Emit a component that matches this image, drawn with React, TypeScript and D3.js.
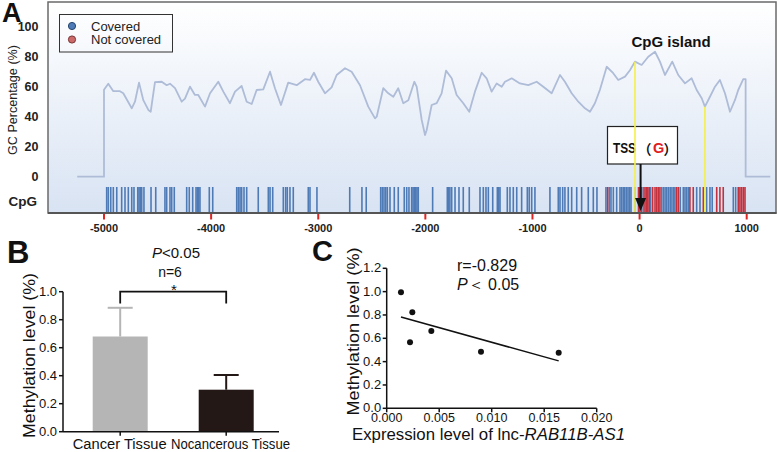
import React from "react";
import * as d3 from "d3";

// ---------- Panel A data ----------
const gcPos = [-5250, -5000, -5000, -4960, -4913, -4851, -4820, -4741, -4711, -4673,
  -4633, -4586, -4564, -4524, -4461, -4415, -4384, -4337, -4275, -4244,
  -4197, -4151, -4120, -4057, -4010, -3933, -3886, -3824, -3777, -3715,
  -3668, -3621, -3575, -3513, -3450, -3404, -3348, -3280, -3201, -3124,
  -3077, -3040, -3000, -2937, -2875, -2828, -2750, -2688, -2610, -2533,
  -2470, -2454, -2393, -2346, -2299, -2253, -2206, -2159, -2103, -2081,
  -2034, -2003, -1988, -1941, -1894, -1848, -1807, -1754, -1708, -1646,
  -1590, -1537, -1474, -1428, -1381, -1334, -1287, -1257, -1194, -1117,
  -1039, -961, -899, -821, -743, -697, -634, -572, -510, -463,
  -417, -370, -307, -246, -199, -136, -90, -43, 19, 81,
  144, 190, 237, 305, 361, 424, 486, 533, 580, 610,
  657, 704, 750, 797, 844, 890, 921, 968, 990, 990,
  1220];
const gcVal = [0, 0, 58, 62, 57, 57, 55.6, 45.6, 50, 62.7,
  51, 44.5, 43.3, 63, 63.3, 61, 62, 59, 50, 52,
  60, 54.5, 54.5, 46.7, 55.6, 63.3, 56.7, 49, 56.7, 60.5,
  50, 48.5, 57.8, 58.2, 70, 59, 47.8, 62.7, 61, 65,
  64.5, 69.3, 63.3, 55.6, 59.6, 67.8, 72.3, 70, 61, 46.7,
  38.9, 40, 59, 55.6, 53.3, 59, 49, 51, 63.3, 60,
  37.8, 27.8, 31, 47.8, 49, 55.6, 70.7, 65.6, 54.5, 49,
  43.3, 56.7, 69.3, 65.6, 56.7, 62.2, 60, 63.3, 65.6, 62.2,
  61, 63.3, 60, 55.6, 67.8, 63.3, 55.6, 50, 45.6, 43.3,
  49, 58, 73.3, 69, 64.5, 66.7, 71, 76.7, 74.5, 80,
  83.3, 76.7, 67.8, 76.7, 67.8, 62.2, 65.6, 57.8, 52.3, 46.7,
  53.3, 60, 64.5, 55.6, 43.3, 51, 57.8, 65, 65, 0,
  0];

const cpgCovered = [-4975, -4960, -4937, -4913, -4881, -4835, -4804, -4773, -4741, -4720,
  -4685, -4673, -4661, -4648, -4627, -4561, -4517, -4431, -4415, -4384, -4368, -4344,
  -4228, -4204, -4172, -4141, -4129, -4116, -4104, -4017, -3985, -3761, -3746, -3730,
  -3715, -3693, -3668, -3560, -3466, -3450, -3425, -3326, -3304, -3289, -3264, -3233,
  -3093, -3077, -3012, -2706, -2592, -2552, -2417, -2402, -2386, -2370, -2355, -2330,
  -2290, -2253, -2197, -2174, -2153, -2128, -2115, -2103, -2090, -2078, -2066, -1932,
  -1795, -1783, -1771, -1754, -1723, -1686, -1646, -1590, -1490, -1459, -1434, -1412,
  -1371, -1328, -1315, -1303, -1235, -1210, -1179, -1147, -1101, -1048, -1030, -1007,
  -977, -837, -759, -743, -718, -697, -666, -634, -587, -541, -479, -432, -398, -314,
  -282, -267, -245, -214, -183, -168, -153, -138, -123, -108, -93, -80, -43, 34, 103,
  206, 222, 238, 254, 270, 286, 302, 318, 330, 380, 408, 424, 440, 456, 533, 564, 626,
  657, 678, 875, 897];
const cpgNotCovered = [-298, -10, 3, 17, 50, 63, 77, 90, 122, 144, 160, 175, 190, 346, 362,
  470, 501, 595, 720, 750, 781, 921, 937, 953, 969, 984];

const islandBounds = [-43, 610];
const islandTopGC = [76.7, 46.7];
const xTicksA = [-5000, -4000, -3000, -2000, -1000, 0, 1000];
const yTicksA = [0, 20, 40, 60, 80, 100];
const tssPos = 0;

// ---------- Panel B data ----------
const tissueCats = ["Cancer Tissue", "Nocancerous Tissue"];
const tissueMeans = [0.68, 0.30];
const tissueErr = [0.205, 0.105];
const tissueColors = ["#b5b5b6", "#231815"];
const yTicksB = [0, 0.2, 0.4, 0.6, 0.8, 1.0];

// ---------- Panel C data ----------
const exprLevel = [0.00136, 0.00244, 0.00222, 0.00425, 0.00898, 0.01638];
const methLevel = [0.994, 0.823, 0.566, 0.662, 0.485, 0.476];
const xTicksC = [0, 0.005, 0.01, 0.015, 0.02];
const yTicksC = [0, 0.2, 0.4, 0.6, 0.8, 1.0, 1.2];

const FONT = "'Liberation Sans', Arial, Helvetica, sans-serif";
const CJK = "'Noto Sans CJK SC', sans-serif";

export default function App() {
  // Panel A scales
  const xA = d3.scaleLinear().domain([-5000, 1000]).range([104, 746.7]);
  const yA = d3.scaleLinear().domain([0, 100]).range([176.7, 26.7]);
  const gcLine = d3.line<number>().x((_, i) => xA(gcPos[i])).y((d) => yA(d));
  const gcPath = gcLine(gcVal) || "";

  // Panel B scales
  const xB = d3.scalePoint<string>().domain(tissueCats).range([120.2, 226.2]);
  const yB = d3.scaleLinear().domain([0, 1]).range([431.7, 291.7]);
  const barW = 55;
  const labelCx = [119.7, 230.5];
  const labelLen = [94, 119];

  // Panel C scales
  const xC = d3.scaleLinear().domain([0, 0.02]).range([386.7, 596.7]);
  const yC = d3.scaleLinear().domain([0, 1.2]).range([408.3, 268.3]);
  const mx = d3.mean(exprLevel) as number;
  const my = d3.mean(methLevel) as number;
  let sxy = 0, sxx = 0;
  exprLevel.forEach((x, i) => { sxy += (x - mx) * (methLevel[i] - my); sxx += (x - mx) ** 2; });
  const slope = sxy / sxx;
  const intercept = my - slope * mx;
  const fx0 = d3.min(exprLevel) as number;
  const fx1 = d3.max(exprLevel) as number;

  const fmtB = d3.format(".1f");
  const fmtC = d3.format(".3f");
  const tx = xA(tssPos);

  return (
    <svg width={777} height={452} style={{ position: "absolute", left: 0, top: 0, background: "#fff" }}
      fontFamily={FONT}>
      <defs>
        <linearGradient id="bgA" x1="0" y1="0" x2="0" y2="1">
          <stop offset="0" stopColor="#ffffff" />
          <stop offset="1" stopColor="#d8e3f3" />
        </linearGradient>
      </defs>

      {/* ===== Panel A ===== */}
      <rect x={48} y={2} width={728} height={211} fill="url(#bgA)" stroke="#6a6a6a" strokeWidth={1.5} />
      <line x1={48} x2={776.5} y1={213} y2={213} stroke="#555" strokeWidth={2} />

      {/* legend */}
      <rect x={59.5} y={14.5} width={113} height={37.5} fill="none" stroke="#333" strokeWidth={1} />
      <circle cx={72} cy={26} r={3.6} fill="#4d7bb8" stroke="#27456e" strokeWidth={1} />
      <circle cx={72} cy={39.5} r={3.6} fill="#cc6a6a" stroke="#7a3434" strokeWidth={1} />
      <text x={91} y={30.5} fontSize={13} fill="#222">Covered</text>
      <text x={91} y={44} fontSize={13} fill="#222">Not covered</text>

      {/* GC curve */}
      <path d={gcPath} fill="none" stroke="#aebcd8" strokeWidth={1.8} strokeLinejoin="round" />

      {/* CpG ticks */}
      {cpgCovered.map((p, i) => (
        <line key={"cb" + i} x1={xA(p)} x2={xA(p)} y1={187} y2={212} stroke="#4e7ab6" strokeWidth={1.6} />
      ))}
      {cpgNotCovered.map((p, i) => (
        <line key={"cr" + i} x1={xA(p)} x2={xA(p)} y1={187} y2={212} stroke="#c4303c" strokeWidth={1.6} />
      ))}

      {/* TSS box */}
      <rect x={607.5} y={126.5} width={70} height={37.5} fill="#fff" stroke="#222" strokeWidth={1.2} />
      <text x={613} y={153} fontSize={15} fontWeight="bold" fill="#111" textLength={23} lengthAdjust="spacingAndGlyphs">TSS</text>
      <text x={638} y={153.5} fontSize={13.5} fontWeight="bold" fill="#111" fontFamily={CJK}>（</text>
      <text x={653} y={153} fontSize={14.5} fontWeight="bold" fill="#e0201e">G</text>
      <text x={663.5} y={153.5} fontSize={13.5} fontWeight="bold" fill="#111" fontFamily={CJK}>）</text>

      {/* island boundary lines (drawn over the box) */}
      {islandBounds.map((p, i) => (
        <line key={"isl" + i} x1={xA(p)} x2={xA(p)} y1={yA(islandTopGC[i])} y2={212} stroke="#f4f04a" strokeWidth={1.6} />
      ))}

      {/* TSS arrow */}
      <line x1={tx + 1} x2={tx + 1} y1={164} y2={199} stroke="#111" strokeWidth={2} />
      <polygon points={`${tx - 4.5},198 ${tx + 6.5},198 ${tx + 1},211`} fill="#111" />

      {/* y labels A */}
      {yTicksA.map((t) => (
        <text key={"ya" + t} x={38.5} y={yA(t) + 4.5} fontSize={12.5} fontWeight="bold" textAnchor="end" fill="#222">{t}</text>
      ))}
      <text x={37} y={205.5} fontSize={13.5} fontWeight="bold" textAnchor="end" fill="#222">CpG</text>
      <text transform={`translate(16.5,100) rotate(-90)`} fontSize={12} textAnchor="middle" fill="#222" textLength={110} lengthAdjust="spacingAndGlyphs">GC Percentage (%)</text>

      {/* x ticks A */}
      {xTicksA.map((t) => (
        <g key={"xa" + t}>
          <line x1={xA(t)} x2={xA(t)} y1={214} y2={219.5} stroke="#e02424" strokeWidth={2} />
          <text x={xA(t)} y={232} fontSize={11} fontWeight="bold" textAnchor="middle" fill="#222">{t}</text>
        </g>
      ))}

      <text x={671} y={47} fontSize={15} fontWeight="bold" textAnchor="middle" fill="#111">CpG island</text>

      <text x={2} y={21.5} fontSize={27} fontWeight="bold" fill="#111">A</text>

      {/* ===== Panel B ===== */}
      <text x={7} y={263} fontSize={31} fontWeight="bold" fill="#111">B</text>
      {tissueCats.map((c, i) => {
        const cx = xB(c) as number;
        return (
          <g key={"bar" + i}>
            <line x1={cx} x2={cx} y1={yB(tissueMeans[i])} y2={yB(tissueMeans[i] + tissueErr[i])} stroke={tissueColors[i]} strokeWidth={2} />
            <line x1={cx - 12.5} x2={cx + 12.5} y1={yB(tissueMeans[i] + tissueErr[i])} y2={yB(tissueMeans[i] + tissueErr[i])} stroke={tissueColors[i]} strokeWidth={2} />
            <rect x={cx - barW / 2} y={yB(tissueMeans[i])} width={barW} height={yB(0) - yB(tissueMeans[i])} fill={tissueColors[i]} />
            <line x1={cx} x2={cx} y1={yB(0)} y2={yB(0) + 4} stroke="#111" strokeWidth={1.5} />
            <text x={labelCx[i]} y={449} fontSize={14} textAnchor="middle" fill="#111" textLength={labelLen[i]} lengthAdjust="spacingAndGlyphs">{c}</text>
          </g>
        );
      })}
      <line x1={63} x2={63} y1={yB(1)} y2={yB(0)} stroke="#111" strokeWidth={1.5} />
      <line x1={63} x2={279} y1={yB(0)} y2={yB(0)} stroke="#111" strokeWidth={1.5} />
      {yTicksB.map((t) => (
        <g key={"yb" + t}>
          <line x1={59} x2={63} y1={yB(t)} y2={yB(t)} stroke="#111" strokeWidth={1.5} />
          <text x={57} y={yB(t) + 4.5} fontSize={13} textAnchor="end" fill="#111">{fmtB(t)}</text>
        </g>
      ))}
      <text transform={`translate(35,355.5) rotate(-90)`} fontSize={17} textAnchor="middle" fill="#111" textLength={165} lengthAdjust="spacingAndGlyphs">Methylation level (%)</text>
      <path d={`M${xB(tissueCats[0])},303.5 V${yB(1)} H${xB(tissueCats[1])} V303.5`} fill="none" stroke="#111" strokeWidth={1.8} />
      <text x={174} y={295} fontSize={15} textAnchor="middle" fill="#111">*</text>
      <text x={170} y={276.5} fontSize={14} textAnchor="middle" fill="#111">n=6</text>
      <text x={176} y={258} fontSize={15} textAnchor="middle" fill="#111"><tspan fontStyle="italic">P</tspan>&lt;0.05</text>

      {/* ===== Panel C ===== */}
      <text x={312} y={261} fontSize={29} fontWeight="bold" fill="#111">C</text>
      <line x1={xC(0)} x2={xC(0)} y1={yC(1.2)} y2={yC(0)} stroke="#111" strokeWidth={1.5} />
      <line x1={xC(0)} x2={xC(0.02)} y1={yC(0)} y2={yC(0)} stroke="#111" strokeWidth={1.5} />
      {yTicksC.map((t) => (
        <g key={"yc" + t}>
          <line x1={xC(0) - 4} x2={xC(0)} y1={yC(t)} y2={yC(t)} stroke="#111" strokeWidth={1.5} />
          <text x={xC(0) - 5.5} y={yC(t) + 4} fontSize={13} textAnchor="end" fill="#111">{fmtB(t)}</text>
        </g>
      ))}
      {xTicksC.map((t) => (
        <g key={"xc" + t}>
          <line x1={xC(t)} x2={xC(t)} y1={yC(0)} y2={yC(0) + 4} stroke="#111" strokeWidth={1.5} />
          <text x={xC(t)} y={422} fontSize={12.5} textAnchor="middle" fill="#111">{fmtC(t)}</text>
        </g>
      ))}
      <line x1={xC(fx0)} x2={xC(fx1)} y1={yC(intercept + slope * fx0)} y2={yC(intercept + slope * fx1)} stroke="#111" strokeWidth={1.5} />
      {exprLevel.map((x, i) => (
        <circle key={"pt" + i} cx={xC(x)} cy={yC(methLevel[i])} r={3} fill="#111" />
      ))}
      <text transform={`translate(359,331.5) rotate(-90)`} fontSize={17} textAnchor="middle" fill="#111" textLength={168} lengthAdjust="spacingAndGlyphs">Methylation level (%)</text>
      <text x={457} y={270.5} fontSize={16} fill="#111">r=-0.829</text>
      <text x={457} y={289.5} fontSize={16} fill="#111"><tspan fontStyle="italic">P</tspan>＜ 0.05</text>
      <text x={352} y={439.5} fontSize={16} fill="#111" textLength={273} lengthAdjust="spacingAndGlyphs">Expression level of lnc-<tspan fontStyle="italic">RAB11B-AS1</tspan></text>
    </svg>
  );
}
